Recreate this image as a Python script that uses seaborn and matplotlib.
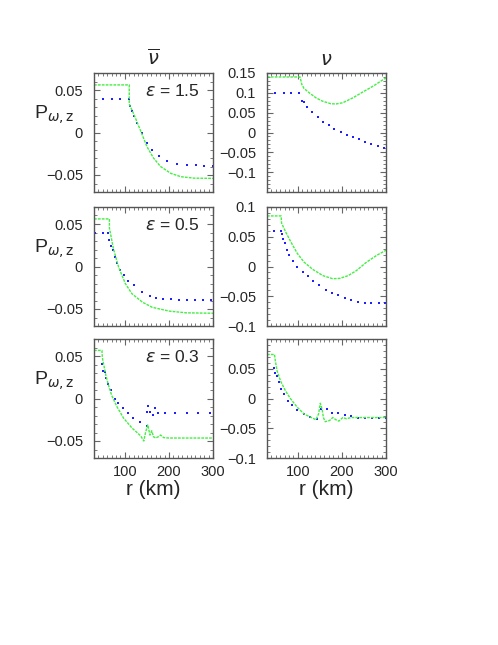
import matplotlib
matplotlib.use("Agg")
from matplotlib import pyplot as plt
from matplotlib.ticker import MultipleLocator, FixedLocator, FuncFormatter
import seaborn as sns
import pandas as pd

# values: r in km, P_w,z
# eps = 1.5, anti-neutrino
r_g_nubar_15 = [30, 110, 110, 112, 120, 135, 150, 165, 181, 204, 227, 257, 300]
p_g_nubar_15 = [0.056, 0.056, 0.034, 0.031, 0.022, 0.003, -0.0165, -0.030, -0.040, -0.048, -0.052, -0.0537, -0.054]
r_b_nubar_15 = [30, 50, 70, 90, 110, 112, 116, 120, 127, 139, 150, 162, 177, 196, 219, 242, 262, 280, 299]
p_b_nubar_15 = [0.04, 0.04, 0.04, 0.04, 0.04, 0.031, 0.025, 0.019, 0.011, -0.001, -0.0125, -0.020, -0.028, -0.034, -0.037, -0.038, -0.0385, -0.039, -0.039]
# eps = 1.5, neutrino
r_g_nu_15 = [30, 105, 109, 114, 126, 141, 156, 175, 187, 202, 225, 248, 271, 300]
p_g_nu_15 = [0.14, 0.14, 0.121, 0.111, 0.100, 0.0875, 0.079, 0.0725, 0.072, 0.075, 0.0875, 0.1025, 0.117, 0.138]
r_b_nu_15 = [30, 49, 68, 84, 103, 110, 115, 121, 132, 145, 157, 170, 183, 197, 211, 224, 238, 252, 266, 281, 296]
p_b_nu_15 = [0.10, 0.10, 0.10, 0.10, 0.10, 0.079, 0.077, 0.064, 0.0515, 0.039, 0.0275, 0.018, 0.009, 0.0015, -0.006, -0.012, -0.0175, -0.0235, -0.0285, -0.034, -0.038]

# eps = 0.5, anti-neutrino
r_g_nubar_05 = [30, 65, 65, 67, 74, 86, 101, 116, 140, 162, 201, 239, 300]
p_g_nubar_05 = [0.056, 0.056, 0.045, 0.040, 0.021, -0.001, -0.020, -0.032, -0.042, -0.048, -0.0525, -0.0545, -0.055]
r_b_nubar_05 = [33, 50, 62, 65, 68, 72, 77, 83, 89, 99, 108, 120, 139, 156, 171, 187, 204, 223, 240, 259, 277, 296]
p_b_nubar_05 = [0.04, 0.04, 0.039, 0.031, 0.024, 0.019, 0.011, 0.004, -0.004, -0.0105, -0.0165, -0.022, -0.030, -0.035, -0.037, -0.038, -0.0386, -0.039, -0.039, -0.039, -0.039, -0.039]
# eps = 0.5, neutrino
r_g_nu_05 = [30, 62, 63, 72, 84, 99, 114, 134, 157, 179, 195, 214, 233, 256, 279, 300]
p_g_nu_05 = [0.085, 0.085, 0.073, 0.0586, 0.0415, 0.0217, 0.0074, -0.005, -0.0154, -0.0205, -0.020, -0.0154, -0.0068, 0.0074, 0.0188, 0.0273]
r_b_nu_05 = [30, 47, 61, 63, 66, 70, 75, 80, 88, 99, 111, 122, 134, 147, 163, 178, 191, 206, 221, 237, 252, 267, 283, 298]
p_b_nu_05 = [0.06, 0.06, 0.06, 0.054, 0.047, 0.0387, 0.0285, 0.0188, 0.0085, -0.001, -0.0085, -0.0154, -0.024, -0.031, -0.040, -0.044, -0.048, -0.053, -0.057, -0.0597, -0.0608, -0.061, -0.061, -0.061]

# eps = 0.3, anti-neutrino
r_g_nubar_03 = [30, 48, 49, 52, 57, 63, 70, 82, 97, 116, 136, 143, 147, 152, 157, 161, 165, 170, 176, 181, 188, 200, 250, 300]
p_g_nubar_03 = [0.0566, 0.0566, 0.048, 0.040, 0.027, 0.0154, 0.0038, -0.0096, -0.023, -0.0346, -0.044, -0.050, -0.040, -0.031, -0.043, -0.038, -0.045, -0.0465, -0.045, -0.043, -0.046, -0.0465, -0.0465, -0.0465]
r_b_nubar_03 = [31, 48, 50, 54, 57, 62, 69, 77, 84, 96, 107, 119, 134, 150, 151, 153, 157, 163, 169, 175, 190, 213, 240, 267, 294]
p_b_nubar_03 = [0.041, 0.041, 0.0327, 0.031, 0.024, 0.0165, 0.0096, 0.0, -0.0058, -0.0115, -0.0173, -0.023, -0.028, -0.032, -0.016, -0.0085, -0.016, -0.019, -0.0115, -0.0173, -0.0166, -0.0166, -0.0166, -0.0166, -0.0166]
# eps = 0.3, neutrino
r_g_nu_03 = [30, 47, 49, 53, 61, 72, 84, 99, 114, 130, 141, 147, 151, 155, 158, 162, 172, 179, 187, 193, 202, 210, 221, 240, 300]
p_g_nu_03 = [0.074, 0.074, 0.063, 0.046, 0.029, 0.0127, -0.001, -0.015, -0.026, -0.0317, -0.0357, -0.026, -0.008, -0.018, -0.032, -0.039, -0.037, -0.032, -0.036, -0.038, -0.032, -0.034, -0.032, -0.032, -0.032]
r_b_nu_03 = [30, 47, 49, 52, 57, 62, 68, 78, 87, 99, 114, 128, 143, 153, 165, 178, 191, 206, 221, 237, 252, 268, 285, 300]
p_b_nu_03 = [0.052, 0.052, 0.043, 0.0377, 0.0277, 0.0167, 0.007, -0.004, -0.011, -0.019, -0.026, -0.0317, -0.0345, -0.018, -0.018, -0.0245, -0.0245, -0.028, -0.030, -0.032, -0.032, -0.032, -0.032, -0.032]

eps_values = ["1.5", "0.5", "0.3"]


def fmt(v, pos):
    s = "%g" % round(v, 4)
    return s.replace("-", "\u2212")


def panel(ax, rg, pg, rb, pb, ylim, yticks, xlabels):
    green = pd.DataFrame({"r": rg, "P": pg})
    blue = pd.DataFrame({"r": rb, "P": pb})
    sns.lineplot(data=green, x="r", y="P", ax=ax, sort=False, estimator=None,
                 color="#44ee44", lw=1.0, linestyle=(0, (2, 0.8)))
    sns.scatterplot(data=blue, x="r", y="P", ax=ax, color="#2020ff",
                    s=3.5, marker="s", linewidth=0)
    ax.set_xlim(30, 300)
    ax.set_ylim(*ylim)
    ax.xaxis.set_major_locator(FixedLocator([100, 200, 300]))
    ax.xaxis.set_minor_locator(MultipleLocator(10))
    ax.yaxis.set_major_locator(FixedLocator(yticks))
    ax.yaxis.set_minor_locator(MultipleLocator(0.01))
    ax.yaxis.set_major_formatter(FuncFormatter(fmt))
    ax.tick_params(which="both", direction="in", top=True, right=True,
                   bottom=True, left=True, color="#666666", labelsize=10.5)
    ax.tick_params(axis="y", which="major", pad=8)
    ax.tick_params(axis="x", which="major", pad=5)
    ax.tick_params(which="major", length=4, width=0.8)
    ax.tick_params(which="minor", length=2, width=0.6)
    if not xlabels:
        ax.set_xticklabels([])
    ax.set_xlabel("")
    ax.set_ylabel("")
    for s in ax.spines.values():
        s.set_color("#555555")
        s.set_linewidth(1.0)


def main():
    sns.set_theme(style="white")
    plt.rcParams["font.family"] = ["Liberation Sans", "DejaVu Sans"]
    plt.rcParams["mathtext.fontset"] = "dejavusans"
    fig = plt.figure(figsize=(4.98, 6.45), dpi=100)

    W, H = 498, 645
    xs = [94, 267]
    ys = [73, 207, 339]
    size = 119

    left_data = [(r_g_nubar_15, p_g_nubar_15, r_b_nubar_15, p_b_nubar_15),
                 (r_g_nubar_05, p_g_nubar_05, r_b_nubar_05, p_b_nubar_05),
                 (r_g_nubar_03, p_g_nubar_03, r_b_nubar_03, p_b_nubar_03)]
    right_data = [(r_g_nu_15, p_g_nu_15, r_b_nu_15, p_b_nu_15),
                  (r_g_nu_05, p_g_nu_05, r_b_nu_05, p_b_nu_05),
                  (r_g_nu_03, p_g_nu_03, r_b_nu_03, p_b_nu_03)]
    right_lims = [(-0.15, 0.15), (-0.1, 0.1), (-0.1, 0.1)]
    right_ticks = [[-0.1, -0.05, 0, 0.05, 0.1, 0.15],
                   [-0.1, -0.05, 0, 0.05, 0.1],
                   [-0.1, -0.05, 0, 0.05]]

    for i in range(3):
        bottom = 1 - (ys[i] + size) / H
        axl = fig.add_axes([xs[0] / W, bottom, size / W, size / H])
        axr = fig.add_axes([xs[1] / W, bottom, size / W, size / H])
        panel(axl, *left_data[i], (-0.07, 0.07), [-0.05, 0, 0.05], i == 2)
        panel(axr, *right_data[i], right_lims[i], right_ticks[i], i == 2)
        axl.text(0.89, 0.85, r"$\varepsilon$ = " + eps_values[i], transform=axl.transAxes,
                 ha="right", va="center", fontsize=12.5)
        axl.text(-0.50, 0.65, r"P$_{\omega,\mathrm{z}}$", transform=axl.transAxes,
                 ha="left", va="center", fontsize=14)
        if i == 0:
            axl.set_title(r"$\overline{\nu}$", fontsize=14, pad=6)
            axr.set_title(r"$\nu$", fontsize=14, pad=6)
        if i == 2:
            axl.set_xlabel("r (km)", fontsize=15, labelpad=1)
            axr.set_xlabel("r (km)", fontsize=15, labelpad=1)

    fig.savefig("out.png", dpi=100)


if __name__ == "__main__":
    main()
